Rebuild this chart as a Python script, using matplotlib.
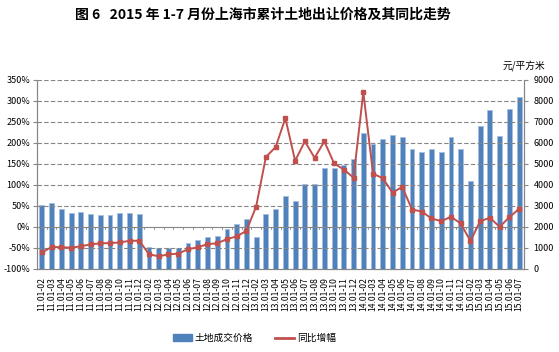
import numpy as np
import matplotlib.pyplot as plt
from matplotlib.lines import Line2D
from matplotlib.patches import Patch

plt.rcParams['font.family'] = ['Noto Sans CJK SC', 'DejaVu Sans']

# categories: year prefix and month span
years = ['11', '12', '13', '14']
months = ['02', '03', '04', '05', '06', '07', '08', '09', '10', '11', '12']
labels = [y + '.01-' + m for y in years for m in months] + \
         ['15.01-' + m for m in ['02', '03', '04', '05', '06', '07']]

# land price, yuan per square metre (right axis)
price = [3020, 3130, 2830, 2640, 2720, 2610, 2570, 2570, 2680, 2680, 2610,
         1030, 990, 1000, 1000, 1250, 1370, 1500, 1580, 1880, 2120, 2380,
         1530, 2610, 2860, 3470, 3220, 4030, 4030, 4780, 4820, 4940, 5230,
         6440, 5950, 6160, 6360, 6250, 5720, 5570, 5680, 5540, 6250, 5720,
         4170, 6810, 7530, 6330, 7600, 8160]

# year-on-year change, % (left axis)
yoy = [-60.5, -48, -48, -49.5, -46, -41.6, -39, -38.4, -37, -33, -33,
       -65, -70, -65, -63.7, -53, -48.5, -41, -39, -29, -22.6, -9.2,
       48.4, 166, 189.7, 258, 157, 203, 164, 203, 151, 136, 117,
       320, 126.5, 115.5, 81.5, 95, 41.3, 36.5, 20, 13.7, 24, 8.1,
       -33.7, 13.7, 21.5, 0.2, 23, 43]

blue = '#4F81BD'
red = '#C0504D'
grey = '#868686'

fig = plt.figure(figsize=(5.59, 3.52), dpi=100)
ax = fig.add_axes([0.0662, 0.2358, 0.8712, 0.5383])
ax2 = ax.twinx()

x = np.arange(len(labels))

ax2.bar(x, price, width=0.5, color=blue, edgecolor='#A7BFDE', linewidth=0.6, zorder=2)
ax2.set_ylim(0, 9000)
ax2.set_yticks(np.arange(0, 9001, 1000))
ax2.tick_params(axis='y', labelsize=6.5, length=3, color=grey, pad=4)

ax.set_zorder(ax2.get_zorder() + 1)
ax.patch.set_visible(False)
ax.plot(x, yoy, color=red, lw=1.4, marker='s', ms=3.2, zorder=3)
ax.set_ylim(-100, 350)
ax.set_yticks(np.arange(-100, 351, 50))
ax.set_yticklabels([f'{v}%' for v in range(-100, 351, 50)])
ax.tick_params(axis='y', labelsize=6.5, length=3, color=grey, pad=2)

for v in range(-50, 351, 50):
    if v != 0:
        ax.axhline(v, color=grey, lw=0.8, ls=(0, (4, 2)), zorder=0)
ax.axhline(0, color=grey, lw=0.8, zorder=1)
# tick marks on the category axis at 0%
for b in np.arange(-0.5, len(labels), 1):
    ax.plot([b, b], [0, -5], color=grey, lw=0.6, zorder=1)

ax.set_xlim(-0.5, len(labels) - 0.5)
ax.set_xticks(x)
ax.set_xticklabels(labels, rotation=90, fontsize=6.2)
ax.tick_params(axis='x', length=0, pad=6)

for a in (ax, ax2):
    a.spines['top'].set_visible(False)
    for s in ('left', 'right', 'bottom'):
        a.spines[s].set_color(grey)
        a.spines[s].set_linewidth(0.8)

fig.text(0.47, 0.957, '图 6   2015 年 1-7 月份上海市累计土地出让价格及其同比走势',
         ha='center', va='center', fontsize=10, fontweight='bold')
fig.text(0.975, 0.812, '元/平方米', ha='right', va='center', fontsize=7)

handles = [Patch(color=blue), Line2D([], [], color=red, lw=2)]
fig.legend(handles, ['土地成交价格', '同比增幅'], loc='center', bbox_to_anchor=(0.455, 0.04),
           ncol=2, frameon=False, fontsize=7, handlelength=2.0, handleheight=0.7,
           handletextpad=0.3, columnspacing=2.2)

fig.savefig('out.png', dpi=100)
